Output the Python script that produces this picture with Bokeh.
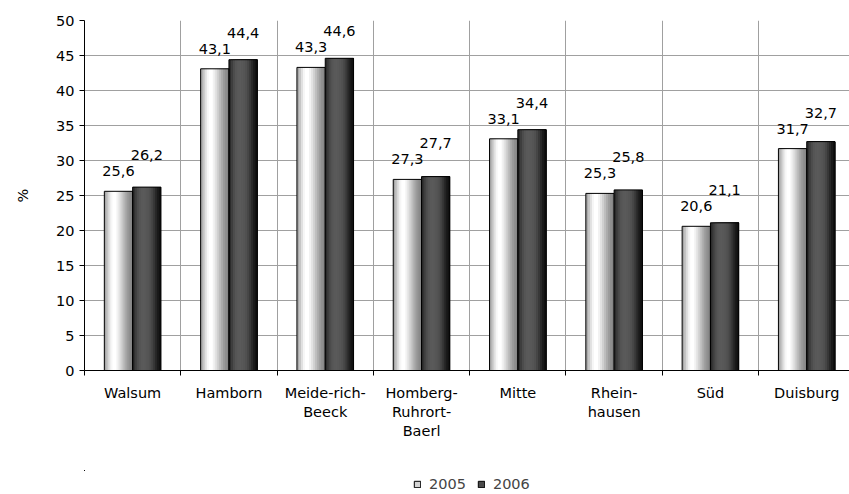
import numpy as np
from bokeh.plotting import figure
from bokeh.layouts import column
from bokeh.core.properties import value
from bokeh.models import Range1d, FixedTicker, SingleIntervalTicker, Legend, LegendItem
from bokeh.embed import file_html
from bokeh.resources import INLINE

# ---- data ----
categories = ["Walsum", "Hamborn", "Meide-rich-\nBeeck", "Homberg-\nRuhrort-\nBaerl",
              "Mitte", "Rhein-\nhausen", "Süd", "Duisburg"]
years = ["2005", "2006"]
values_2005 = [25.6, 43.1, 43.3, 27.3, 33.1, 25.3, 20.6, 31.7]
values_2006 = [26.2, 44.4, 44.6, 27.7, 34.4, 25.8, 21.1, 32.7]
y_ticks_step = 5

FONT = "DejaVu Sans"
FS = "14.5px"
n = len(categories)
centers = np.arange(n) + 0.5
bar_w = 0.294
off = 0.147

p = figure(width=849, height=470, output_backend="svg", toolbar_location=None,
           x_range=Range1d(0, 7.944), y_range=Range1d(0, 50),
           min_border_left=84, min_border_right=0, min_border_top=20, min_border_bottom=100)
p.outline_line_color = None
p.background_fill_color = "white"
p.border_fill_color = "white"

# gradient profiles (style)
grad05 = ["#a8a8a8", "#c4c4c4", "#e0e0e0", "#f6f6f6", "#ffffff", "#ffffff", "#f2f2f2",
          "#e2e2e2", "#d0d0d0", "#bdbdbd", "#ababab", "#9b9b9b", "#8f8f8f", "#868686"]
grad06 = ["#2c2c2c", "#3e3e3e", "#4c4c4c", "#555555", "#595959", "#5a5a5a", "#585858",
          "#555555", "#505050", "#464646", "#383838", "#282828", "#1a1a1a", "#111111"]
N = len(grad05)

x05 = centers - off
x06 = centers + off

# gradient: each stripe runs from its left edge to the bar's right edge (no seams)
for k in range(N):
    lo = -bar_w / 2 + k * bar_w / N
    w = bar_w / 2 - lo
    mid = lo + w / 2
    p.vbar(x=x05 + mid, top=values_2005, width=w, bottom=0,
           fill_color=grad05[k], line_color=None)
    p.vbar(x=x06 + mid, top=values_2006, width=w, bottom=0,
           fill_color=grad06[k], line_color=None)

p.vbar(x=x05, top=values_2005, width=bar_w, bottom=0, fill_color=None, line_color="black", line_width=1)
p.vbar(x=x06, top=values_2006, width=bar_w, bottom=0, fill_color=None, line_color="black", line_width=1)

# data labels
lab05 = [f"{v:.1f}".replace(".", ",") for v in values_2005]
lab06 = [f"{v:.1f}".replace(".", ",") for v in values_2006]
p.text(x=x05, y=values_2005, text=lab05, y_offset=-20, text_align="center",
       text_baseline="middle", text_font=value(FONT), text_font_size=FS, text_color="black")
p.text(x=x06, y=values_2005, text=lab06, y_offset=-36, text_align="center",
       text_baseline="middle", text_font=value(FONT), text_font_size=FS, text_color="black")

# axes
yax = p.yaxis[0]
yax.ticker = SingleIntervalTicker(interval=y_ticks_step)
yax.minor_tick_line_color = None
yax.major_tick_out = 5
yax.major_tick_in = 0
yax.major_label_standoff = 5
yax.axis_line_color = "black"
yax.major_tick_line_color = "black"
yax.major_label_text_font = FONT
yax.major_label_text_font_size = FS
yax.major_label_text_color = "black"
yax.axis_label = "%"
yax.axis_label_text_font = FONT
yax.axis_label_text_font_size = FS
yax.axis_label_text_font_style = "normal"
yax.axis_label_text_color = "black"
yax.axis_label_standoff = 22

xax = p.xaxis[0]
xax.ticker = FixedTicker(ticks=list(centers), minor_ticks=list(range(n)))
xax.major_label_overrides = {float(c): lab for c, lab in zip(centers, categories)}
xax.major_tick_line_color = None
xax.major_tick_out = 0
xax.major_tick_in = 0
xax.minor_tick_line_color = "black"
xax.minor_tick_out = 5
xax.minor_tick_in = 0
xax.axis_line_color = "black"
xax.major_label_standoff = 9
xax.major_label_text_font = FONT
xax.major_label_text_font_size = FS
xax.major_label_text_color = "black"

p.xgrid[0].ticker = FixedTicker(ticks=list(range(1, n + 1)))
p.xgrid[0].grid_line_color = "#a0a0a0"
p.ygrid[0].grid_line_color = "#a0a0a0"

# ---- legend strip below the chart (its bars lie far outside its visible range) ----
q = figure(width=849, height=24, output_backend="svg", toolbar_location=None,
           x_range=Range1d(100, 107.944), y_range=Range1d(-30, -6),
           x_axis_type=None, y_axis_type=None,
           min_border_left=84, min_border_right=0, min_border_top=0, min_border_bottom=0)
q.outline_line_color = None
q.background_fill_color = "white"
q.border_fill_color = "white"
q.xgrid.visible = False
q.ygrid.visible = False
k05 = q.vbar(x=x05, top=values_2005, bottom=0, width=bar_w, fill_color="#d4d4d4", line_color="black")
k06 = q.vbar(x=x06, top=values_2006, bottom=0, width=bar_w, fill_color="#4a4a4a", line_color="black")
legend = Legend(items=[LegendItem(label=years[0], renderers=[k05]),
                       LegendItem(label=years[1], renderers=[k06])],
                orientation="horizontal", location=(329, 2),
                glyph_width=8, glyph_height=8, label_standoff=8, spacing=11,
                padding=0, margin=0, label_height=16,
                label_text_font=FONT, label_text_font_size=FS,
                border_line_color=None, background_fill_alpha=0)
q.add_layout(legend)

layout = column(p, q, spacing=0)
open("out.html", "w").write(file_html(layout, INLINE))
